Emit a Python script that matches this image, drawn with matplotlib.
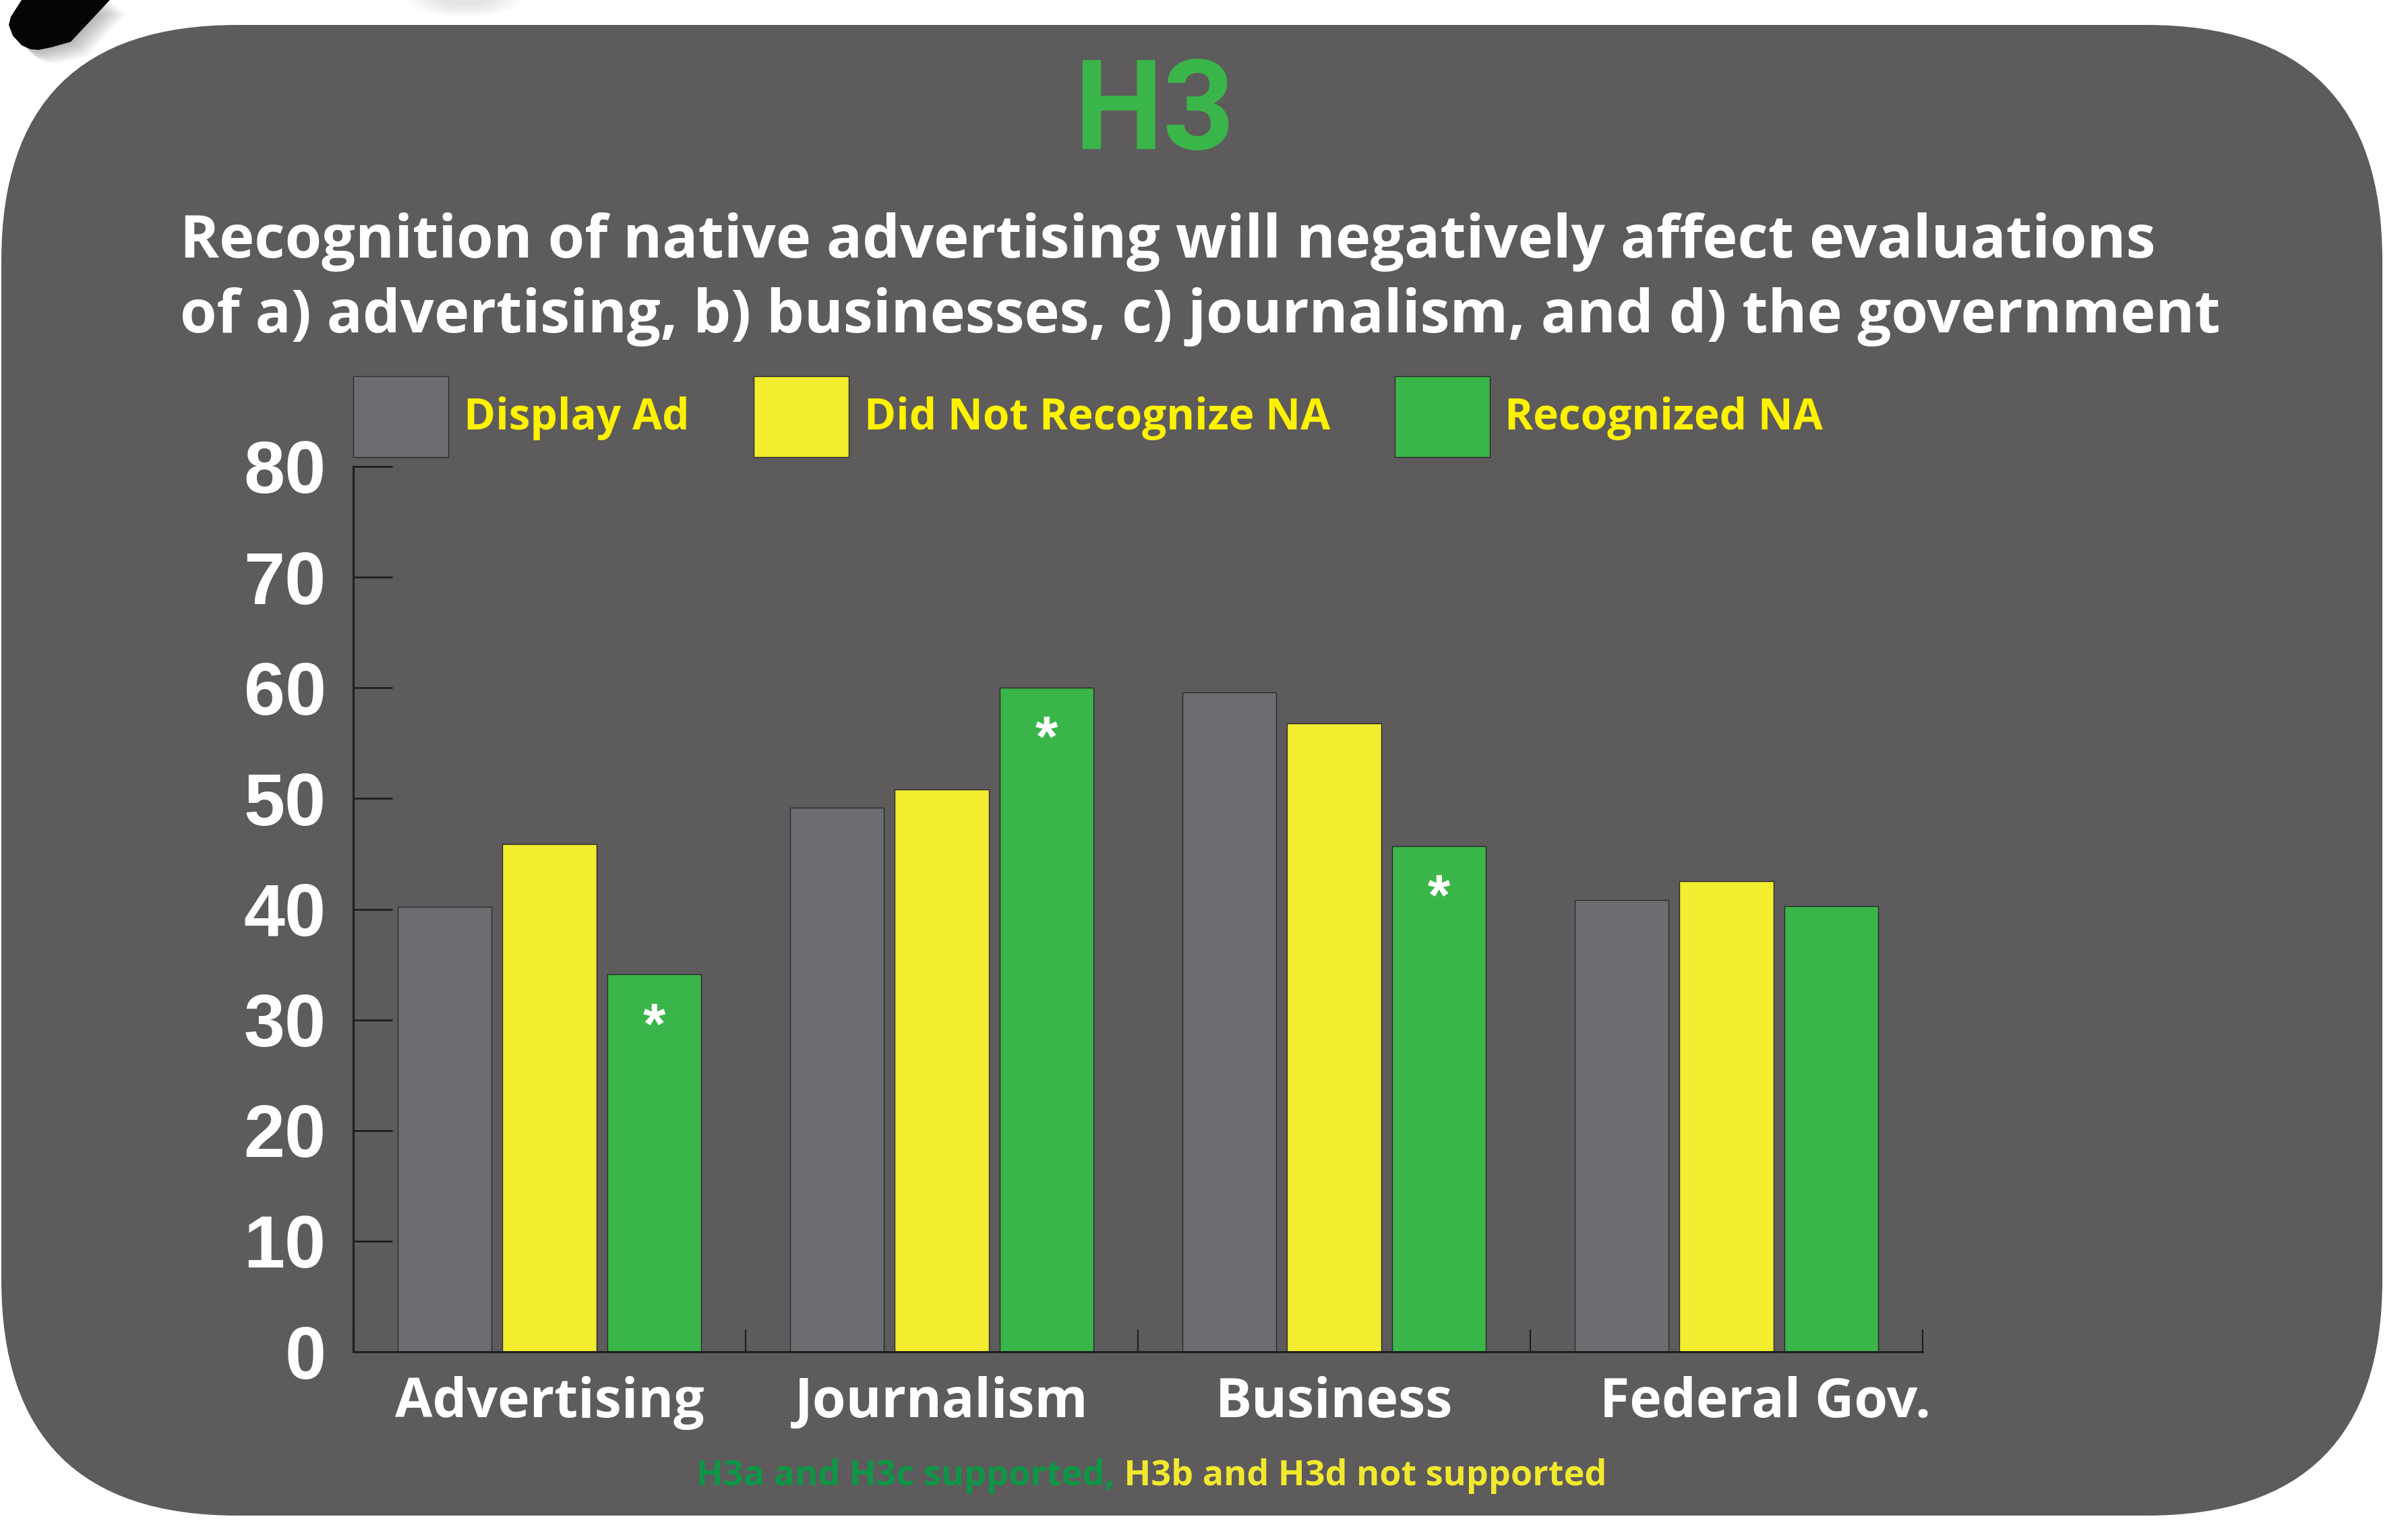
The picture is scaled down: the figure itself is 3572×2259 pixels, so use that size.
import matplotlib
matplotlib.use('Agg')
import numpy as np
import matplotlib.pyplot as plt
from matplotlib.patches import FancyBboxPatch, Polygon, Ellipse
from matplotlib.transforms import ScaledTranslation

categories = ['Advertising', 'Journalism', 'Business', 'Federal Gov.']
series_names = ['Display Ad', 'Did Not Recognize NA', 'Recognized NA']
display_ad = [40.2, 49.2, 59.6, 40.8]
did_not_recognize = [45.9, 50.8, 56.8, 42.5]
recognized_na = [34.1, 60.0, 45.7, 40.3]
significant = [True, True, True, False]
y_ticks = [0, 10, 20, 30, 40, 50, 60, 70, 80]

headline = 'H3'
subtitle_1 = 'Recognition of native advertising will negatively affect evaluations'
subtitle_2 = 'of a) advertising, b) businesses, c) journalism, and d) the government'
note_supported = 'H3a and H3c supported,'
note_not_supported = ' H3b and H3d not supported'

PANEL = '#5d5b5c'
GRAY = '#6c6d71'
YELLOW = '#f3ec2f'
GREEN = '#3ab54a'
LEGEND_YELLOW = '#fff200'
NOTE_GREEN = '#0e9647'
NOTE_YELLOW = '#f2e92e'
INK = '#1e1e1e'
EDGE = '#2b2b2b'

TEXT_FONT = ['Open Sans', 'DejaVu Sans']
NUM_FONT = ['Liberation Sans', 'DejaVu Sans']
HEAD_FONT = ['Roboto', 'DejaVu Sans']

W, H = 3572, 2259
fig = plt.figure(figsize=(W / 100, H / 100), dpi=100)
fig.patch.set_facecolor('white')

# pixel-space layer for the card and the decoration behind it
bg = fig.add_axes([0, 0, 1, 1], zorder=0)
bg.set_xlim(0, W)
bg.set_ylim(H, 0)
bg.axis('off')

pen = np.array([(32, 0), (16, 25), (13, 37), (19, 53), (32, 67), (45, 73),
                (57, 74), (77, 70), (105, 62), (163, 0)], dtype=float)
for k in range(1, 9):
    bg.add_patch(Polygon(pen + [3 * k, 2.5 * k], closed=True, fc='#555555',
                         ec='none', alpha=0.06))
bg.add_patch(Polygon(pen, closed=True, fc='#050505', ec='none'))
for k in range(1, 6):
    bg.add_patch(Ellipse((690, -5), 60 + 22 * k, 20 + 8 * k, fc='#777777',
                         ec='none', alpha=0.04))

bg.add_patch(FancyBboxPatch((2, 37), 3532, 2211,
                            boxstyle='round,pad=0,rounding_size=350',
                            fc=PANEL, ec='none'))

def fx(px):
    return px / W

def fy(py):
    return 1 - py / H

fig.text(fx(1712), fy(221), headline, ha='center', va='baseline',
         color=GREEN, fontsize=134, fontweight='bold', family=HEAD_FONT)
fig.text(fx(267), fy(382), subtitle_1, ha='left', va='baseline',
         color='white', fontsize=63.5, fontweight='bold', family=TEXT_FONT)
fig.text(fx(267), fy(493), subtitle_2, ha='left', va='baseline',
         color='white', fontsize=63.5, fontweight='bold', family=TEXT_FONT)

# bar chart
ax = fig.add_axes([fx(524), fy(2005), (2852 - 524) / W, (2005 - 692) / H], zorder=2)
ax.patch.set_alpha(0)

x = np.arange(len(categories))
offsets = [-0.267, 0.0, 0.267]
width = 0.24
series = [display_ad, did_not_recognize, recognized_na]
colors = [GRAY, YELLOW, GREEN]
for vals, off, col, name in zip(series, offsets, colors, series_names):
    ax.bar(x + off, vals, width, color=col, edgecolor=EDGE, linewidth=1.0,
           label=name, zorder=2)

for i, flag in enumerate(significant):
    if flag:
        ax.text(x[i] + offsets[2], recognized_na[i] - 2.4, '*', ha='center',
                va='top', color='white', fontsize=62, fontweight='bold',
                family=NUM_FONT, zorder=3)

ax.set_xlim(-0.5, len(categories) - 0.5)
ax.set_ylim(0, 80)
for side in ['top', 'right']:
    ax.spines[side].set_visible(False)
for side in ['left', 'bottom']:
    ax.spines[side].set_color(INK)
    ax.spines[side].set_linewidth(2.2)

ax.set_yticks(y_ticks)
ax.set_yticklabels([str(v) for v in y_ticks])
ax.tick_params(axis='y', direction='in', length=42, width=2.0, color=INK,
               pad=29, labelcolor='white', labelsize=79)
for lab in ax.get_yticklabels():
    lab.set_family(NUM_FONT)
    lab.set_fontweight('bold')

ax.set_xticks(x)
ax.set_xticklabels(categories)
ax.set_xticks(np.arange(-0.5, len(categories)), minor=True)
ax.tick_params(axis='x', which='major', length=0, pad=26, labelcolor='white',
               labelsize=58)
ax.tick_params(axis='x', which='minor', direction='in', length=24, width=1.6,
               color=INK)
for lab in ax.get_xticklabels():
    lab.set_family(TEXT_FONT)
    lab.set_fontweight('bold')
last = ax.get_xticklabels()[-1]
last.set_transform(last.get_transform() + ScaledTranslation(0.58, 0, fig.dpi_scale_trans))

handles, labels = ax.get_legend_handles_labels()
fig.legend(handles, labels, loc='upper left', bbox_to_anchor=(fx(524), fy(558)),
           ncol=3, frameon=False, handlelength=2.21, handleheight=2.51,
           handletextpad=0.35, columnspacing=1.5, borderpad=0, borderaxespad=0,
           labelcolor=LEGEND_YELLOW,
           prop={'family': TEXT_FONT, 'weight': 'bold', 'size': 46})

note = fig.text(fx(1033), fy(2203), note_supported, ha='left', va='baseline',
                color=NOTE_GREEN, fontsize=37.5, fontweight='bold', family=TEXT_FONT)
bg.annotate(note_not_supported, xy=(1, 0), xycoords=note, ha='left', va='bottom',
            color=NOTE_YELLOW, fontsize=37.5, fontweight='bold', family=TEXT_FONT)

fig.savefig('out.png', dpi=100, facecolor='white')
